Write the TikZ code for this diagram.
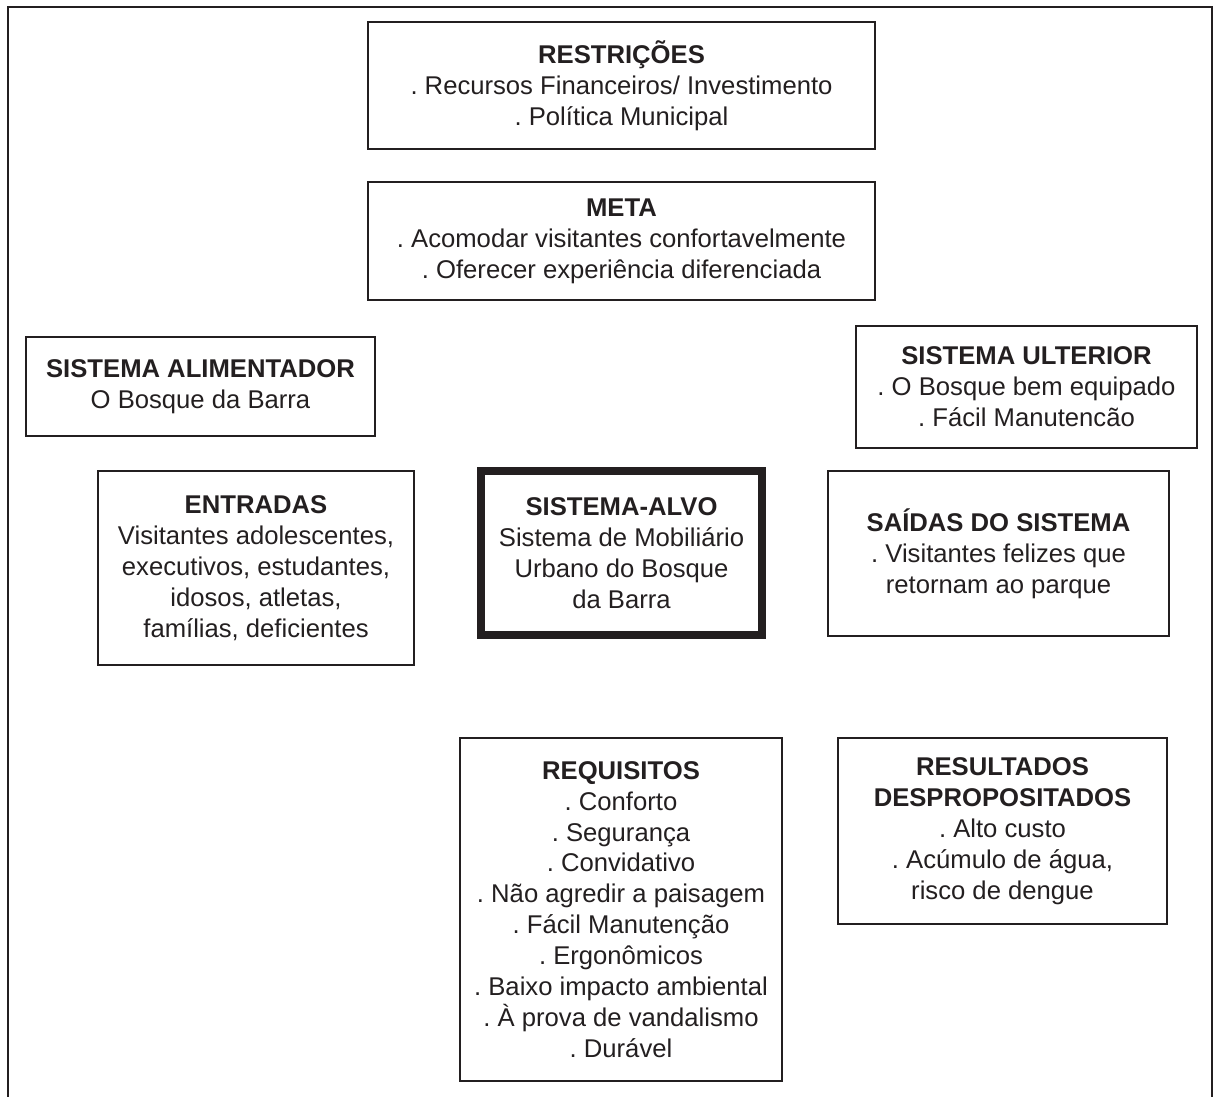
\documentclass[tikz,border=0pt]{standalone}
\usepackage{fontspec}
\setmainfont{Liberation Sans}
\frenchspacing
\definecolor{ink}{RGB}{35,31,32}
\tikzset{
	box/.style={draw=ink, line width=0.04cm, text=ink, align=center, inner sep=0pt, font=\fontsize{14.6}{17.6}\selectfont},
	targetbox/.style={box, line width=0.16cm},
}

\begin{document}
\begin{tikzpicture}[x=0.02cm, y=-0.02cm]
		%%%%% START %%%%%
		
		\useasboundingbox (0,0) rectangle (1218,1097);
		\draw[ink, line width=0.04cm] (8,1120) -- (8,7) -- (1212,7) -- (1212,1120);
		
		\node[box, minimum width=10.14cm, minimum height=2.54cm] (restricoes) at (621.5,85.5)
			{\textbf{RESTRIÇÕES}\\. Recursos Financeiros/ Investimento\\. Política Municipal};
		\node[box, minimum width=10.14cm, minimum height=2.36cm] (meta) at (621.5,241)
			{\textbf{META}\\. Acomodar visitantes confortavelmente\\. Oferecer experiência diferenciada};
		
		\node[box, minimum width=6.98cm, minimum height=1.98cm] (alimentador) at (200.5,386.5)
			{\textbf{SISTEMA ALIMENTADOR}\\O Bosque da Barra};
		\node[box, minimum width=6.82cm, minimum height=2.44cm] (ulterior) at (1026.5,387)
			{\textbf{SISTEMA ULTERIOR}\\. O Bosque bem equipado\\. Fácil Manutencão};
		
		\node[box, minimum width=6.32cm, minimum height=3.88cm] (entradas) at (256,568)
			{\textbf{ENTRADAS}\\Visitantes adolescentes,\\executivos, estudantes,\\idosos, atletas,\\famílias, deficientes};
		\node[targetbox, minimum width=5.62cm, minimum height=3.28cm] (alvo) at (621.5,553)
			{\textbf{SISTEMA-ALVO}\\Sistema de Mobiliário\\Urbano do Bosque\\da Barra};
		\node[box, minimum width=6.82cm, minimum height=3.30cm] (saidas) at (998.5,553.5)
			{\textbf{SAÍDAS DO SISTEMA}\\. Visitantes felizes que\\retornam ao parque};
		
		\node[box, minimum width=6.44cm, minimum height=6.86cm] (requisitos) at (621,909.5)
			{\textbf{REQUISITOS}\\. Conforto\\. Segurança\\. Convidativo\\. Não agredir a paisagem\\. Fácil Manutenção\\. Ergonômicos\\. Baixo impacto ambiental\\. À prova de vandalismo\\. Durável};
		\node[box, minimum width=6.58cm, minimum height=3.72cm] (resultados) at (1002.5,831)
			{\textbf{RESULTADOS}\\\textbf{DESPROPOSITADOS}\\. Alto custo\\. Acúmulo de água,\\risco de dengue};
		
		%%%%% END %%%%%
	\end{tikzpicture}
\end{document}
